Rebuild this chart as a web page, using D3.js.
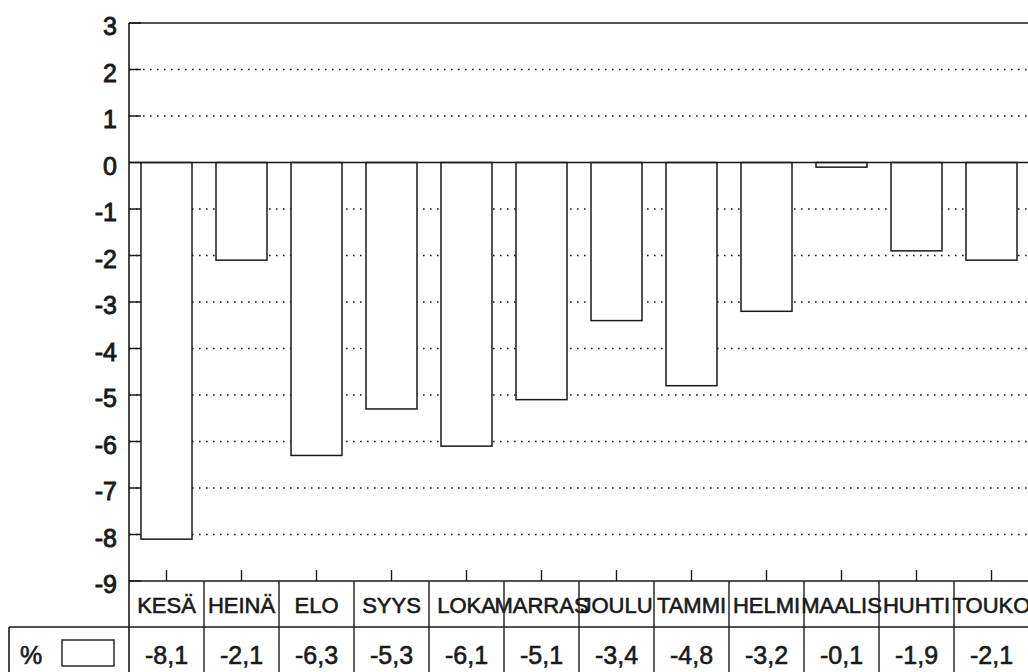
<!DOCTYPE html>
<html><head><meta charset="utf-8">
<script src="https://cdn.jsdelivr.net/npm/d3@7/dist/d3.min.js"></script>
<style>body{margin:0;background:#fff}svg{display:block}</style>
</head><body>
<svg id="c" width="1028" height="672"></svg>
<script>
const categories = ["KESÄ","HEINÄ","ELO","SYYS","LOKA","MARRAS","JOULU","TAMMI","HELMI","MAALIS","HUHTI","TOUKO"];
const values = [-8.1,-2.1,-6.3,-5.3,-6.1,-5.1,-3.4,-4.8,-3.2,-0.1,-1.9,-2.1];
const valueLabels = ["-8,1","-2,1","-6,3","-5,3","-6,1","-5,1","-3,4","-4,8","-3,2","-0,1","-1,9","-2,1"];
const yTicks = [3,2,1,0,-1,-2,-3,-4,-5,-6,-7,-8,-9];
const seriesName = "%";

const svg = d3.select("#c");
const L = 129, R = 1029, T = 23, B = 581;
const row1B = 627, row2B = 672, legendL = 9;
const ink = "#1a1a1a";
const font = "'Liberation Sans', Arial, Helvetica, sans-serif";

const x = d3.scaleBand().domain(categories).range([L, R]).paddingInner(0.32).paddingOuter(0.16);
const y = d3.scaleLinear().domain([-9, 3]).range([B, T]);

// gridlines (dotted)
svg.append("g").selectAll("line").data(yTicks.filter(t => t !== 3 && t !== 0 && t !== -9)).join("line")
  .attr("x1", L).attr("x2", R).attr("y1", d => y(d)).attr("y2", d => y(d))
  .attr("stroke", ink).attr("stroke-width", 1.6).attr("stroke-dasharray", "1.6,5.4");

// bars
svg.append("g").selectAll("rect").data(values).join("rect")
  .attr("x", (d, i) => x(categories[i]))
  .attr("width", x.bandwidth())
  .attr("y", d => y(Math.max(0, d)))
  .attr("height", d => Math.abs(y(d) - y(0)))
  .attr("fill", "#fff").attr("stroke", ink).attr("stroke-width", 1.5);

// y ticks inside the plot
svg.append("g").selectAll("line").data(yTicks).join("line")
  .attr("x1", L).attr("x2", L + 12).attr("y1", d => y(d)).attr("y2", d => y(d))
  .attr("stroke", ink).attr("stroke-width", 1.5);

// frame lines
svg.append("line").attr("x1", L).attr("x2", R).attr("y1", y(3)).attr("y2", y(3)).attr("stroke", ink).attr("stroke-width", 1.6);
svg.append("line").attr("x1", L).attr("x2", R).attr("y1", y(0)).attr("y2", y(0)).attr("stroke", ink).attr("stroke-width", 1.6);
svg.append("line").attr("x1", L).attr("x2", R).attr("y1", B).attr("y2", B).attr("stroke", ink).attr("stroke-width", 1.6);
svg.append("line").attr("x1", L).attr("x2", L).attr("y1", T).attr("y2", row2B).attr("stroke", ink).attr("stroke-width", 1.6);

// y labels
svg.append("g").selectAll("text").data(yTicks).join("text")
  .attr("x", 117).attr("y", d => y(d) + 12)
  .attr("text-anchor", "end").attr("font-family", font).attr("font-size", 25)
  .attr("fill", ink).attr("stroke", ink).attr("stroke-width", 0.9)
  .text(d => d);

// x ticks (upwards from axis)
svg.append("g").selectAll("line").data(categories).join("line")
  .attr("x1", d => x(d) + x.bandwidth() / 2).attr("x2", d => x(d) + x.bandwidth() / 2)
  .attr("y1", B).attr("y2", B - 11).attr("stroke", ink).attr("stroke-width", 1.4);

// data table
const step = x.step();
const cellL = d => x(d) - x.paddingOuter() * step;
svg.append("line").attr("x1", legendL).attr("x2", R).attr("y1", row1B).attr("y2", row1B).attr("stroke", ink).attr("stroke-width", 1.6);
svg.append("line").attr("x1", legendL).attr("x2", legendL).attr("y1", row1B).attr("y2", row2B).attr("stroke", ink).attr("stroke-width", 1.6);
svg.append("g").selectAll("line").data(categories).join("line")
  .attr("x1", d => cellL(d) + step).attr("x2", d => cellL(d) + step)
  .attr("y1", B).attr("y2", row2B).attr("stroke", ink).attr("stroke-width", 1.4);

svg.append("g").selectAll("text").data(categories).join("text")
  .attr("x", d => cellL(d) + step / 2).attr("y", 613)
  .attr("text-anchor", "middle").attr("font-family", font).attr("font-size", 22)
  .attr("fill", ink).attr("stroke", ink).attr("stroke-width", 0.6)
  .text(d => d);

svg.append("g").selectAll("text").data(valueLabels).join("text")
  .attr("x", (d, i) => cellL(categories[i]) + step / 2).attr("y", 664)
  .attr("text-anchor", "middle").attr("font-family", font).attr("font-size", 25)
  .attr("fill", ink).attr("stroke", ink).attr("stroke-width", 0.6)
  .text(d => d);

// legend
svg.append("text").attr("x", 20).attr("y", 664).attr("font-family", font).attr("font-size", 25)
  .attr("fill", ink).attr("stroke", ink).attr("stroke-width", 0.6).text(seriesName);
svg.append("rect").attr("x", 62).attr("y", 640).attr("width", 52).attr("height", 26)
  .attr("fill", "#fff").attr("stroke", ink).attr("stroke-width", 1.4);
</script>
</body></html>
